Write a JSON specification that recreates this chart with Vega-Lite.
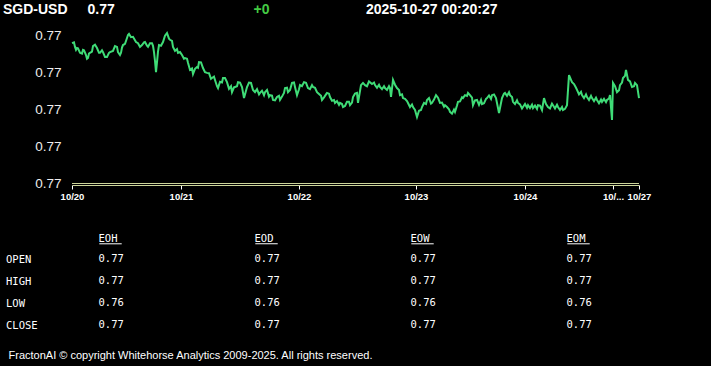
{
  "$schema": "https://vega.github.io/schema/vega-lite/v6.json",
  "width": 711,
  "height": 366,
  "autosize": {"type": "none"},
  "padding": 0,
  "background": "#000000",
  "config": {"view": {"stroke": null}},
  "layer": [
    {
      "data": {"values": [
        {"t":0,"v":0.77378},{"t":3,"v":0.77368},{"t":5,"v":0.77365},{"t":8,"v":0.77352},{"t":11,"v":0.7736},{"t":14,"v":0.77346},{"t":16,"v":0.77338},{"t":18,"v":0.77352},{"t":21,"v":0.7737},{"t":25,"v":0.77365},{"t":28,"v":0.77352},{"t":31,"v":0.77354},{"t":35,"v":0.77341},{"t":38,"v":0.77354},{"t":43,"v":0.7737},{"t":46,"v":0.77354},{"t":49,"v":0.77352},{"t":51,"v":0.77373},{"t":55,"v":0.77392},{"t":57,"v":0.77403},{"t":61,"v":0.77395},{"t":66,"v":0.77378},{"t":70,"v":0.77373},{"t":73,"v":0.77381},{"t":76,"v":0.77368},{"t":80,"v":0.77378},{"t":82,"v":0.77354},{"t":84,"v":0.773},{"t":85,"v":0.77327},{"t":87,"v":0.77373},{"t":91,"v":0.77381},{"t":95,"v":0.77405},{"t":98,"v":0.77387},{"t":101,"v":0.77368},{"t":106,"v":0.77352},{"t":110,"v":0.77346},{"t":113,"v":0.77338},{"t":116,"v":0.77325},{"t":121,"v":0.77295},{"t":125,"v":0.77314},{"t":127,"v":0.77327},{"t":131,"v":0.77311},{"t":135,"v":0.77298},{"t":140,"v":0.77284},{"t":143,"v":0.77279},{"t":146,"v":0.77257},{"t":151,"v":0.77284},{"t":155,"v":0.77273},{"t":160,"v":0.77246},{"t":163,"v":0.7726},{"t":166,"v":0.77273},{"t":170,"v":0.7726},{"t":172,"v":0.7723},{"t":175,"v":0.7726},{"t":179,"v":0.77271},{"t":183,"v":0.77246},{"t":188,"v":0.77244},{"t":193,"v":0.77246},{"t":198,"v":0.77238},{"t":201,"v":0.77225},{"t":205,"v":0.77233},{"t":208,"v":0.77225},{"t":213,"v":0.77257},{"t":216,"v":0.77246},{"t":220,"v":0.77271},{"t":223,"v":0.7726},{"t":225,"v":0.77238},{"t":228,"v":0.77265},{"t":232,"v":0.77273},{"t":236,"v":0.77257},{"t":241,"v":0.7726},{"t":245,"v":0.77246},{"t":250,"v":0.77225},{"t":255,"v":0.77244},{"t":258,"v":0.77233},{"t":263,"v":0.77217},{"t":268,"v":0.77217},{"t":271,"v":0.77206},{"t":275,"v":0.7722},{"t":278,"v":0.77211},{"t":281,"v":0.77233},{"t":285,"v":0.77244},{"t":286,"v":0.77217},{"t":289,"v":0.77265},{"t":293,"v":0.77265},{"t":298,"v":0.77273},{"t":303,"v":0.77265},{"t":308,"v":0.7726},{"t":313,"v":0.77257},{"t":318,"v":0.77257},{"t":319,"v":0.77233},{"t":321,"v":0.77279},{"t":325,"v":0.77257},{"t":328,"v":0.77238},{"t":331,"v":0.7723},{"t":336,"v":0.77217},{"t":341,"v":0.77206},{"t":345,"v":0.77179},{"t":350,"v":0.77206},{"t":355,"v":0.77225},{"t":360,"v":0.77217},{"t":364,"v":0.77238},{"t":368,"v":0.77217},{"t":373,"v":0.77211},{"t":378,"v":0.77193},{"t":383,"v":0.77193},{"t":386,"v":0.7722},{"t":391,"v":0.7723},{"t":396,"v":0.77244},{"t":398,"v":0.77238},{"t":401,"v":0.77211},{"t":405,"v":0.77225},{"t":410,"v":0.77214},{"t":415,"v":0.7723},{"t":420,"v":0.77238},{"t":424,"v":0.7723},{"t":427,"v":0.7719},{"t":430,"v":0.7723},{"t":433,"v":0.77244},{"t":438,"v":0.77238},{"t":441,"v":0.7722},{"t":446,"v":0.77217},{"t":451,"v":0.77206},{"t":456,"v":0.77211},{"t":461,"v":0.77203},{"t":466,"v":0.77211},{"t":470,"v":0.77198},{"t":472,"v":0.7723},{"t":476,"v":0.77206},{"t":481,"v":0.77211},{"t":486,"v":0.77206},{"t":491,"v":0.77198},{"t":495,"v":0.77211},{"t":497,"v":0.77292},{"t":500,"v":0.77273},{"t":505,"v":0.77252},{"t":510,"v":0.77238},{"t":515,"v":0.77233},{"t":520,"v":0.7723},{"t":525,"v":0.77225},{"t":530,"v":0.7722},{"t":535,"v":0.77225},{"t":538,"v":0.77238},{"t":540,"v":0.77171},{"t":541,"v":0.77271},{"t":545,"v":0.77246},{"t":548,"v":0.77265},{"t":551,"v":0.77284},{"t":554,"v":0.77306},{"t":556,"v":0.77279},{"t":560,"v":0.7726},{"t":563,"v":0.77271},{"t":565,"v":0.77265},{"t":567,"v":0.7723},
        {"t":2,"v":0.7738},{"t":4,"v":0.7736},{"t":6,"v":0.77364},{"t":10,"v":0.7735},{"t":12,"v":0.77359},{"t":15,"v":0.77336},{"t":17,"v":0.7735},{"t":20,"v":0.77355},{"t":23,"v":0.77374},{"t":27,"v":0.77352},{"t":30,"v":0.77359},{"t":33,"v":0.77341},{"t":37,"v":0.77352},{"t":41,"v":0.77357},{"t":45,"v":0.77368},{"t":48,"v":0.77346},{"t":50,"v":0.77366},{"t":53,"v":0.77376},{"t":56,"v":0.774},{"t":59,"v":0.77394},{"t":64,"v":0.77381},{"t":68,"v":0.77368},{"t":72,"v":0.7738},{"t":75,"v":0.77371},{"t":78,"v":0.77378},{"t":81,"v":0.77371},{"t":83,"v":0.7733},{"t":86,"v":0.77355},{"t":89,"v":0.77371},{"t":93,"v":0.77398},{"t":97,"v":0.7739},{"t":100,"v":0.77384},{"t":103,"v":0.77357},{"t":105,"v":0.77362},{"t":108,"v":0.77354},{"t":112,"v":0.77336},{"t":115,"v":0.77336},{"t":118,"v":0.77306},{"t":120,"v":0.7731},{"t":123,"v":0.77309},{"t":126,"v":0.77312},{"t":129,"v":0.77326},{"t":133,"v":0.773},{"t":137,"v":0.77297},{"t":139,"v":0.77282},{"t":142,"v":0.77288},{"t":145,"v":0.77262},{"t":148,"v":0.77274},{"t":150,"v":0.77272},{"t":153,"v":0.77284},{"t":157,"v":0.77255},{"t":159,"v":0.77262},{"t":162,"v":0.77259},{"t":165,"v":0.77262},{"t":168,"v":0.77272},{"t":177,"v":0.77272},{"t":181,"v":0.77252},{"t":185,"v":0.77254},{"t":187,"v":0.7724},{"t":190,"v":0.7725},{"t":192,"v":0.77238},{"t":195,"v":0.77252},{"t":197,"v":0.77234},{"t":200,"v":0.77237},{"t":203,"v":0.77224},{"t":207,"v":0.77236},{"t":210,"v":0.77234},{"t":212,"v":0.77244},{"t":215,"v":0.77258},{"t":218,"v":0.77252},{"t":222,"v":0.77272},{"t":227,"v":0.77254},{"t":230,"v":0.77262},{"t":234,"v":0.77271},{"t":238,"v":0.77254},{"t":240,"v":0.77265},{"t":243,"v":0.77258},{"t":247,"v":0.77241},{"t":249,"v":0.77236},{"t":252,"v":0.77232},{"t":254,"v":0.7724},{"t":257,"v":0.77242},{"t":260,"v":0.77223},{"t":262,"v":0.77225},{"t":265,"v":0.77222},{"t":267,"v":0.77212},{"t":270,"v":0.77214},{"t":273,"v":0.77209},{"t":277,"v":0.7722},{"t":280,"v":0.77218},{"t":283,"v":0.77242},{"t":291,"v":0.77271},{"t":295,"v":0.77262},{"t":297,"v":0.77275},{"t":300,"v":0.77268},{"t":302,"v":0.77272},{"t":305,"v":0.77258},{"t":307,"v":0.77266},{"t":310,"v":0.77254},{"t":312,"v":0.77262},{"t":315,"v":0.77252},{"t":317,"v":0.77262},{"t":323,"v":0.77266},{"t":327,"v":0.77252},{"t":330,"v":0.7724},{"t":333,"v":0.77228},{"t":335,"v":0.77222},{"t":338,"v":0.77206},{"t":340,"v":0.77213},{"t":343,"v":0.77198},{"t":347,"v":0.77196},{"t":349,"v":0.77198},{"t":352,"v":0.77217},{"t":354,"v":0.77214},{"t":357,"v":0.7723},{"t":359,"v":0.77215},{"t":362,"v":0.77226},{"t":366,"v":0.77231},{"t":370,"v":0.77218},{"t":372,"v":0.77207},{"t":375,"v":0.77206},{"t":377,"v":0.772},{"t":380,"v":0.77188},{"t":382,"v":0.77199},{"t":385,"v":0.7721},{"t":388,"v":0.77221},{"t":390,"v":0.77232},{"t":393,"v":0.77238},{"t":395,"v":0.77236},{"t":400,"v":0.77231},{"t":403,"v":0.77224},{"t":407,"v":0.77212},{"t":409,"v":0.77225},{"t":412,"v":0.77216},{"t":414,"v":0.77228},{"t":417,"v":0.77237},{"t":419,"v":0.77228},{"t":422,"v":0.7724},{"t":432,"v":0.77242},{"t":435,"v":0.77236},{"t":437,"v":0.77246},{"t":440,"v":0.77233},{"t":443,"v":0.77214},{"t":445,"v":0.77224},{"t":448,"v":0.77213},{"t":450,"v":0.77202},{"t":453,"v":0.77214},{"t":455,"v":0.77204},{"t":458,"v":0.77203},{"t":460,"v":0.77212},{"t":463,"v":0.7721},{"t":465,"v":0.77201},{"t":468,"v":0.7721},{"t":474,"v":0.77214},{"t":478,"v":0.77202},{"t":480,"v":0.77215},{"t":483,"v":0.77202},{"t":485,"v":0.77212},{"t":488,"v":0.77198},{"t":490,"v":0.77206},{"t":493,"v":0.77201},{"t":502,"v":0.77268},{"t":504,"v":0.77258},{"t":507,"v":0.7724},{"t":509,"v":0.77247},{"t":512,"v":0.7723},{"t":514,"v":0.7724},{"t":517,"v":0.77225},{"t":519,"v":0.77236},{"t":522,"v":0.77222},{"t":524,"v":0.77231},{"t":527,"v":0.77216},{"t":529,"v":0.77226},{"t":532,"v":0.77228},{"t":534,"v":0.77219},{"t":537,"v":0.77229},{"t":543,"v":0.77262},{"t":547,"v":0.77251},{"t":550,"v":0.77272},{"t":553,"v":0.7729},{"t":558,"v":0.77275},{"t":562,"v":0.77262}
      ]},
      "encoding": {
        "x": {"field": "t", "type": "quantitative",
          "scale": {"domain": [0, 567], "range": [72, 639], "nice": false, "zero": false},
          "axis": {"orient": "bottom", "offset": -181, "title": null, "grid": false,
            "values": [0, 109, 227, 344, 453, 541, 567],
            "labelExpr": "datum.value==0?'10/20':datum.value==109?'10/21':datum.value==227?'10/22':datum.value==344?'10/23':datum.value==453?'10/24':datum.value==541?'10/...':'10/27'",
            "domainColor": "#cdd59a", "domainWidth": 1, "tickColor": "#ffffff", "tickSize": 4, "tickWidth": 1,
            "labelColor": "#ffffff", "labelFont": "Liberation Sans", "labelFontSize": 9.5, "labelFontWeight": "bold",
            "labelPadding": 2, "labelFlush": false, "labelOverlap": false, "labelBound": false}},
        "y": {"field": "v", "type": "quantitative",
          "scale": {"domain": [0.77, 0.774], "range": [183.5, 35], "nice": false, "zero": false},
          "axis": {"orient": "left", "offset": -72, "title": null, "grid": false, "domain": false, "ticks": false, "tickSize": 0,
            "values": [0.77, 0.771, 0.772, 0.773, 0.774], "format": ".2f",
            "labelColor": "#eeeeee", "labelFont": "Liberation Sans", "labelFontSize": 13.5, "labelPadding": 11,
            "labelOverlap": false, "labelBound": false, "labelFlush": false}}
      },
      "layer": [
        {"mark": {"type": "line", "color": "#3fdc77", "strokeWidth": 2, "interpolate": "linear"}},
        {"mark": {"type": "rule", "color": "#cdd59a", "strokeWidth": 1},
         "encoding": {"x": {"datum": 0}, "x2": {"datum": 567}, "y": {"datum": 0.77}}}
      ]
    },
    {
      "data": {"values": [
        {"c": 0, "r": -1, "s": "SGD-USD"},
        {"c": 1, "r": -1, "s": "0.77"},
        {"c": 2, "r": -1, "s": "+0"},
        {"c": 3, "r": -1, "s": "2025-10-27 00:20:27"}
      ]},
      "mark": {"type": "text", "font": "Liberation Sans", "fontSize": 14, "fontWeight": "bold", "align": "left", "baseline": "alphabetic"},
      "encoding": {
        "x": {"field": "c", "type": "quantitative", "scale": {"domain": [0, 1, 2, 3], "range": [3, 87.5, 253.5, 366]}, "axis": null},
        "y": {"field": "r", "type": "quantitative", "scale": {"domain": [-1, 0, 1, 4, 5], "range": [13.5, 242.3, 262.3, 328.3, 359.3]}, "axis": null},
        "text": {"field": "s"},
        "color": {"condition": {"test": "datum.c == 2", "value": "#44cc44"}, "value": "#ffffff"}
      }
    },
    {
      "data": {"values": [
        {"col": 1, "row": 0, "kind": "head", "s": "EOH"},
        {"col": 2, "row": 0, "kind": "head", "s": "EOD"},
        {"col": 3, "row": 0, "kind": "head", "s": "EOW"},
        {"col": 4, "row": 0, "kind": "head", "s": "EOM"},
        {"col": 0, "row": 1, "kind": "label", "s": "OPEN"},
        {"col": 0, "row": 2, "kind": "label", "s": "HIGH"},
        {"col": 0, "row": 3, "kind": "label", "s": "LOW"},
        {"col": 0, "row": 4, "kind": "label", "s": "CLOSE"},
        {"col": 1, "row": 1, "kind": "val", "s": "0.77"},
        {"col": 2, "row": 1, "kind": "val", "s": "0.77"},
        {"col": 3, "row": 1, "kind": "val", "s": "0.77"},
        {"col": 4, "row": 1, "kind": "val", "s": "0.77"},
        {"col": 1, "row": 2, "kind": "val", "s": "0.77"},
        {"col": 2, "row": 2, "kind": "val", "s": "0.77"},
        {"col": 3, "row": 2, "kind": "val", "s": "0.77"},
        {"col": 4, "row": 2, "kind": "val", "s": "0.77"},
        {"col": 1, "row": 3, "kind": "val", "s": "0.76"},
        {"col": 2, "row": 3, "kind": "val", "s": "0.76"},
        {"col": 3, "row": 3, "kind": "val", "s": "0.76"},
        {"col": 4, "row": 3, "kind": "val", "s": "0.76"},
        {"col": 1, "row": 4, "kind": "val", "s": "0.77"},
        {"col": 2, "row": 4, "kind": "val", "s": "0.77"},
        {"col": 3, "row": 4, "kind": "val", "s": "0.77"},
        {"col": 4, "row": 4, "kind": "val", "s": "0.77"},
        {"col": 0, "row": 5, "kind": "foot", "s": "FractonAI © copyright Whitehorse Analytics 2009-2025. All rights reserved."}
      ]},
      "encoding": {
        "x": {"field": "col", "type": "quantitative", "scale": {"domain": [0, 1, 4], "range": [6, 98.5, 566.5]}, "axis": null},
        "y": {"field": "row", "type": "quantitative", "scale": {"domain": [-1, 0, 1, 4, 5], "range": [13.5, 242.3, 262.3, 328.3, 359.3]}, "axis": null}
      },
      "layer": [
        {"transform": [{"filter": "datum.kind == 'head' || datum.kind == 'val'"}],
         "mark": {"type": "text", "font": "DejaVu Sans Mono", "fontSize": 10.5, "align": "left", "baseline": "alphabetic", "color": "#ffffff"},
         "encoding": {"text": {"field": "s"}}},
        {"transform": [{"filter": "datum.kind == 'label'"}],
         "mark": {"type": "text", "font": "DejaVu Sans Mono", "fontSize": 10.5, "align": "left", "baseline": "alphabetic", "color": "#ffffff", "dy": 1},
         "encoding": {"text": {"field": "s"}}},
        {"transform": [{"filter": "datum.kind == 'head'"}],
         "mark": {"type": "tick", "orient": "horizontal", "color": "#ffffff", "size": 22.4, "thickness": 1, "xOffset": 12, "yOffset": 1.5, "opacity": 1}},
        {"transform": [{"filter": "datum.kind == 'foot'"}],
         "mark": {"type": "text", "font": "Liberation Sans", "fontSize": 11, "align": "left", "baseline": "alphabetic", "color": "#ffffff", "dx": 2.5},
         "encoding": {"text": {"field": "s"}}}
      ]
    }
  ],
  "resolve": {"scale": {"x": "independent", "y": "independent", "color": "independent"}, "axis": {"x": "independent", "y": "independent"}}
}
